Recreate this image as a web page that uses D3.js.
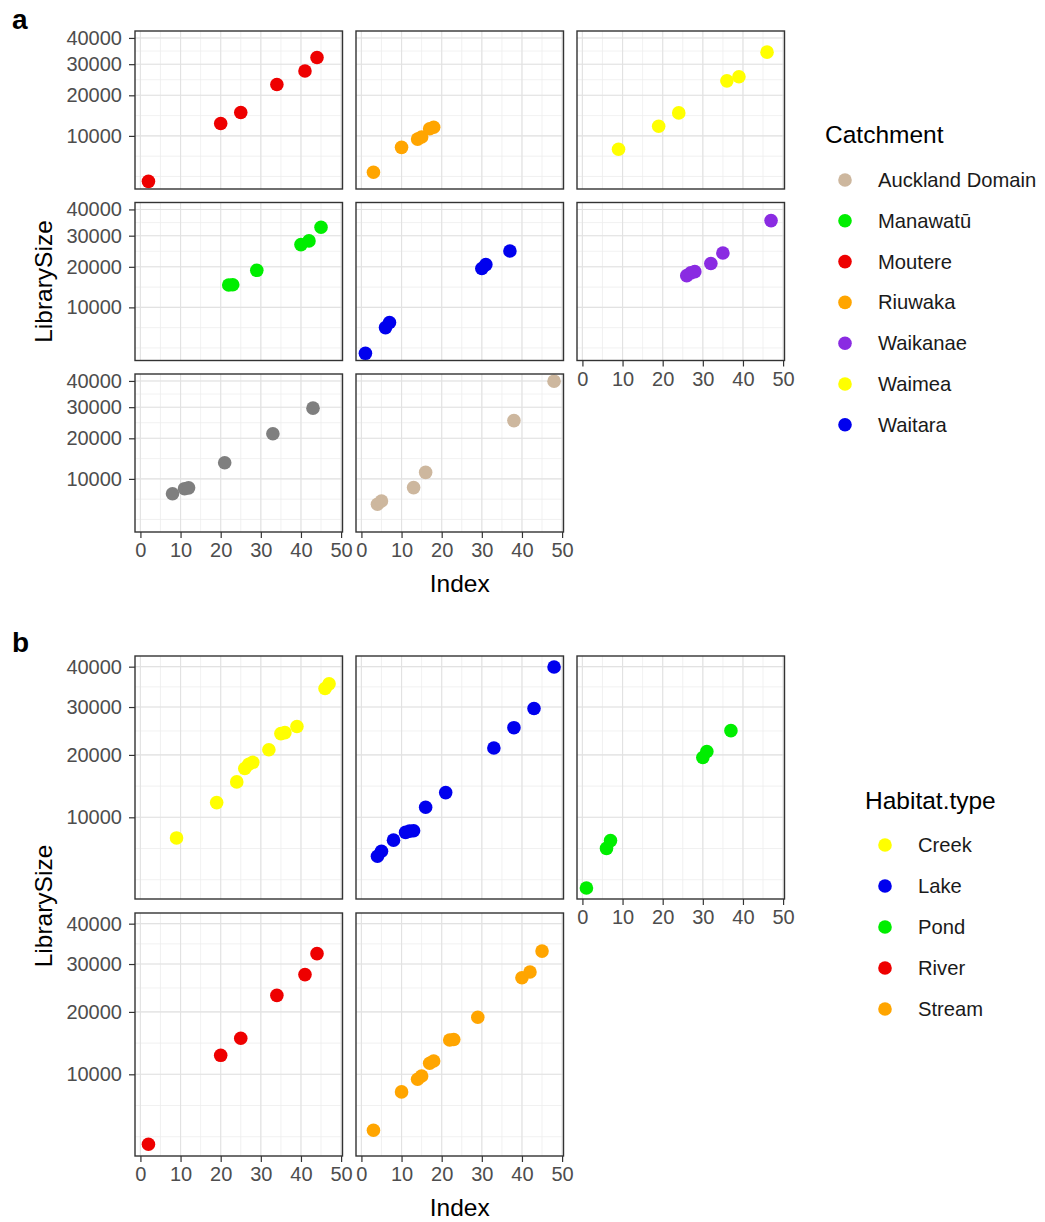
<!DOCTYPE html>
<html>
<head>
<meta charset="utf-8">
<script src="https://cdn.jsdelivr.net/npm/d3@7"></script>
<style>
  body { margin: 0; background: #fff; }
  svg { font-family: "Liberation Sans", Arial, sans-serif; }
</style>
</head>
<body>
<svg id="chart" width="1045" height="1222"></svg>
<script>
// sample data, one entry per sample (Index is the rank of LibrarySize)
const sampleIndex = [1,2,3,4,5,6,7,8,9,10,11,12,13,14,15,16,17,18,19,20,21,22,23,24,
  25,26,27,28,29,30,31,32,33,34,35,36,37,38,39,40,41,42,43,44,45,46,47,48];
const librarySize = [2820,2870,3950,5500,6000,6300,7150,7200,7450,7800,8100,8250,8300,9350,
  9780,11380,11520,11850,12050,12680,13550,15080,15150,15250,15350,17530,18280,18630,19000,
  19520,20650,20970,21320,23230,24200,24400,24810,25440,25700,26930,27620,28190,29650,32430,
  33050,34400,35570,39900];
const catchment = ["Waitara","Moutere","Riuwaka","Auckland Domain","Auckland Domain","Waitara",
  "Waitara","NA","Waimea","Riuwaka","NA","NA","Auckland Domain","Riuwaka","Riuwaka",
  "Auckland Domain","Riuwaka","Riuwaka","Waimea","Moutere","NA","Manawatū","Manawatū","Waimea",
  "Moutere","Waikanae","Waikanae","Waikanae","Manawatū","Waitara","Waitara","Waikanae","NA",
  "Moutere","Waikanae","Waimea","Waitara","Auckland Domain","Waimea","Manawatū","Moutere",
  "Manawatū","NA","Moutere","Manawatū","Waimea","Waikanae","Auckland Domain"];
const habitat = ["Pond","River","Stream","Lake","Lake","Pond","Pond","Lake","Creek","Stream",
  "Lake","Lake","Lake","Stream","Stream","Lake","Stream","Stream","Creek","River","Lake",
  "Stream","Stream","Creek","River","Creek","Creek","Creek","Stream","Pond","Pond","Creek",
  "Lake","River","Creek","Creek","Pond","Lake","Creek","Stream","River","Stream","Lake","River",
  "Stream","Creek","Creek","Lake"];

// legends and facet order
const catchmentLevels = ["Auckland Domain","Manawatū","Moutere","Riuwaka","Waikanae","Waimea","Waitara"];
const catchmentColors = ["#CDB79E","#00EE00","#EE0000","#FFA500","#8A2BE2","#FFFF00","#0000EE"];
const catchmentFacets = ["Moutere","Riuwaka","Waimea","Manawatū","Waitara","Waikanae","NA","Auckland Domain"];
const habitatLevels = ["Creek","Lake","Pond","River","Stream"];
const habitatColors = ["#FFFF00","#0000EE","#00EE00","#EE0000","#FFA500"];

const xTicks = [0,10,20,30,40,50];
const yTicks = [10000,20000,30000,40000];

const data = sampleIndex.map((d, i) => ({
  index: d, size: librarySize[i], catchment: catchment[i], habitat: habitat[i]
}));

const svg = d3.select("#chart");

// ggplot-like 5% expansion (y in sqrt space)
const xe = d3.extent(sampleIndex);
const xPad = (xe[1] - xe[0]) * 0.05;
const xDomain = [xe[0] - xPad, xe[1] + xPad];
const ye = d3.extent(librarySize).map(Math.sqrt);
const yPad = (ye[1] - ye[0]) * 0.05;
const yDomain = [Math.pow(ye[0] - yPad, 2), Math.pow(ye[1] + yPad, 2)];

function minorBreaks(b, lo, hi) {
  const bd = b[1] - b[0];
  let ext = b.slice();
  if (lo < ext[0]) ext.unshift(ext[0] - bd);
  if (hi > ext[ext.length - 1]) ext.push(ext[ext.length - 1] + bd);
  const out = [];
  for (let i = 0; i < ext.length - 1; i++) out.push(ext[i], (ext[i] + ext[i + 1]) / 2);
  out.push(ext[ext.length - 1]);
  return out.filter(v => v >= lo && v <= hi);
}

const panelW = 207.5, gapX = 13.5, left0 = 135;
const xMinor = minorBreaks(xTicks, xDomain[0], xDomain[1]);
const yMinorSqrt = minorBreaks(yTicks.map(Math.sqrt), Math.sqrt(yDomain[0]), Math.sqrt(yDomain[1]));

let clipId = 0;
function drawBlock(cfg) {
  const g = svg.append("g");
  const x = d3.scaleLinear().domain(xDomain).range([0, panelW]);
  const y = d3.scaleSqrt().domain(yDomain).range([cfg.panelH, 0]);
  const color = d3.scaleOrdinal().domain(cfg.levels).range(cfg.colors).unknown("#7F7F7F");
  const nRows = Math.ceil(cfg.facets.length / 3);

  cfg.facets.forEach((f, k) => {
    const r = Math.floor(k / 3), c = k % 3;
    const px = left0 + c * (panelW + gapX);
    const py = cfg.top + r * (cfg.panelH + cfg.gapY);
    const p = g.append("g").attr("transform", `translate(${px},${py})`);
    const id = "clip" + (clipId++);
    p.append("clipPath").attr("id", id).append("rect")
      .attr("width", panelW).attr("height", cfg.panelH);
    p.append("rect").attr("width", panelW).attr("height", cfg.panelH).attr("fill", "#fff");

    // minor grid
    p.selectAll(".vmin").data(xMinor).join("line")
      .attr("x1", d => x(d)).attr("x2", d => x(d)).attr("y1", 0).attr("y2", cfg.panelH)
      .attr("stroke", "#EEEEEE").attr("stroke-width", 0.8);
    p.selectAll(".hmin").data(yMinorSqrt).join("line")
      .attr("y1", d => y(d * d)).attr("y2", d => y(d * d)).attr("x1", 0).attr("x2", panelW)
      .attr("stroke", "#EEEEEE").attr("stroke-width", 0.8);
    // major grid
    p.selectAll(".vmaj").data(xTicks).join("line")
      .attr("x1", d => x(d)).attr("x2", d => x(d)).attr("y1", 0).attr("y2", cfg.panelH)
      .attr("stroke", "#E2E2E2").attr("stroke-width", 1.1);
    p.selectAll(".hmaj").data(yTicks).join("line")
      .attr("y1", d => y(d)).attr("y2", d => y(d)).attr("x1", 0).attr("x2", panelW)
      .attr("stroke", "#E2E2E2").attr("stroke-width", 1.1);

    p.append("g").attr("clip-path", `url(#${id})`)
      .selectAll("circle").data(data.filter(d => d[cfg.key] === f)).join("circle")
      .attr("cx", d => x(d.index)).attr("cy", d => y(d.size)).attr("r", 6.8)
      .attr("fill", d => color(d[cfg.key]));

    p.append("rect").attr("width", panelW).attr("height", cfg.panelH)
      .attr("fill", "none").attr("stroke", "#333").attr("stroke-width", 1.4);

    // y axis on first column
    if (c === 0) {
      const ya = p.append("g").call(d3.axisLeft(y).tickValues(yTicks)
        .tickFormat(d3.format("d")).tickSize(6).tickPadding(7));
      ya.select(".domain").remove();
      ya.selectAll("line").attr("stroke", "#333").attr("stroke-width", 1.2);
      ya.selectAll("text").attr("fill", "#4D4D4D").attr("font-size", 20)
        .attr("font-family", "Liberation Sans, Arial, sans-serif");
    }
    // x axis on the lowest panel of each column
    if (k + 3 >= cfg.facets.length) {
      const xa = p.append("g").attr("transform", `translate(0,${cfg.panelH})`)
        .call(d3.axisBottom(x).tickValues(xTicks).tickSize(6).tickPadding(5));
      xa.select(".domain").remove();
      xa.selectAll("line").attr("stroke", "#333").attr("stroke-width", 1.2);
      xa.selectAll("text").attr("fill", "#4D4D4D").attr("font-size", 20)
        .attr("font-family", "Liberation Sans, Arial, sans-serif");
    }
  });

  const blockBottom = cfg.top + nRows * cfg.panelH + (nRows - 1) * cfg.gapY;
  const midX = left0 + (3 * panelW + 2 * gapX) / 2;
  g.append("text").attr("x", midX).attr("y", blockBottom + 60)
    .attr("text-anchor", "middle").attr("font-size", 24.5).attr("fill", "#000").text("Index");
  g.append("text")
    .attr("transform", `translate(52,${(cfg.top + blockBottom) / 2}) rotate(-90)`)
    .attr("text-anchor", "middle").attr("font-size", 24.5).attr("fill", "#000").text("LibrarySize");
  g.append("text").attr("x", 12).attr("y", cfg.labelY)
    .attr("font-size", 28).attr("font-weight", "bold").text(cfg.label);

  // legend
  const lg = g.append("g");
  lg.append("text").attr("x", cfg.legend.titleX).attr("y", cfg.legend.titleY)
    .attr("font-size", 24.5).text(cfg.title);
  cfg.levels.forEach((lv, i) => {
    const cy = cfg.legend.itemY + i * cfg.legend.step;
    lg.append("circle").attr("cx", cfg.legend.keyX).attr("cy", cy).attr("r", 6.8)
      .attr("fill", color(lv));
    lg.append("text").attr("x", cfg.legend.textX).attr("y", cy)
      .attr("dominant-baseline", "central").attr("font-size", 20.2).attr("fill", "#1A1A1A").text(lv);
  });
}

drawBlock({
  top: 31, panelH: 158, gapY: 13.5, key: "catchment", facets: catchmentFacets,
  levels: catchmentLevels, colors: catchmentColors, title: "Catchment",
  label: "a", labelY: 29,
  legend: { titleX: 825, titleY: 143, itemY: 180, step: 40.8, keyX: 845, textX: 878 }
});
drawBlock({
  top: 656, panelH: 243, gapY: 14, key: "habitat", facets: habitatLevels,
  levels: habitatLevels, colors: habitatColors, title: "Habitat.type",
  label: "b", labelY: 652,
  legend: { titleX: 865, titleY: 809, itemY: 845, step: 41, keyX: 885, textX: 918 }
});
</script>
</body>
</html>
